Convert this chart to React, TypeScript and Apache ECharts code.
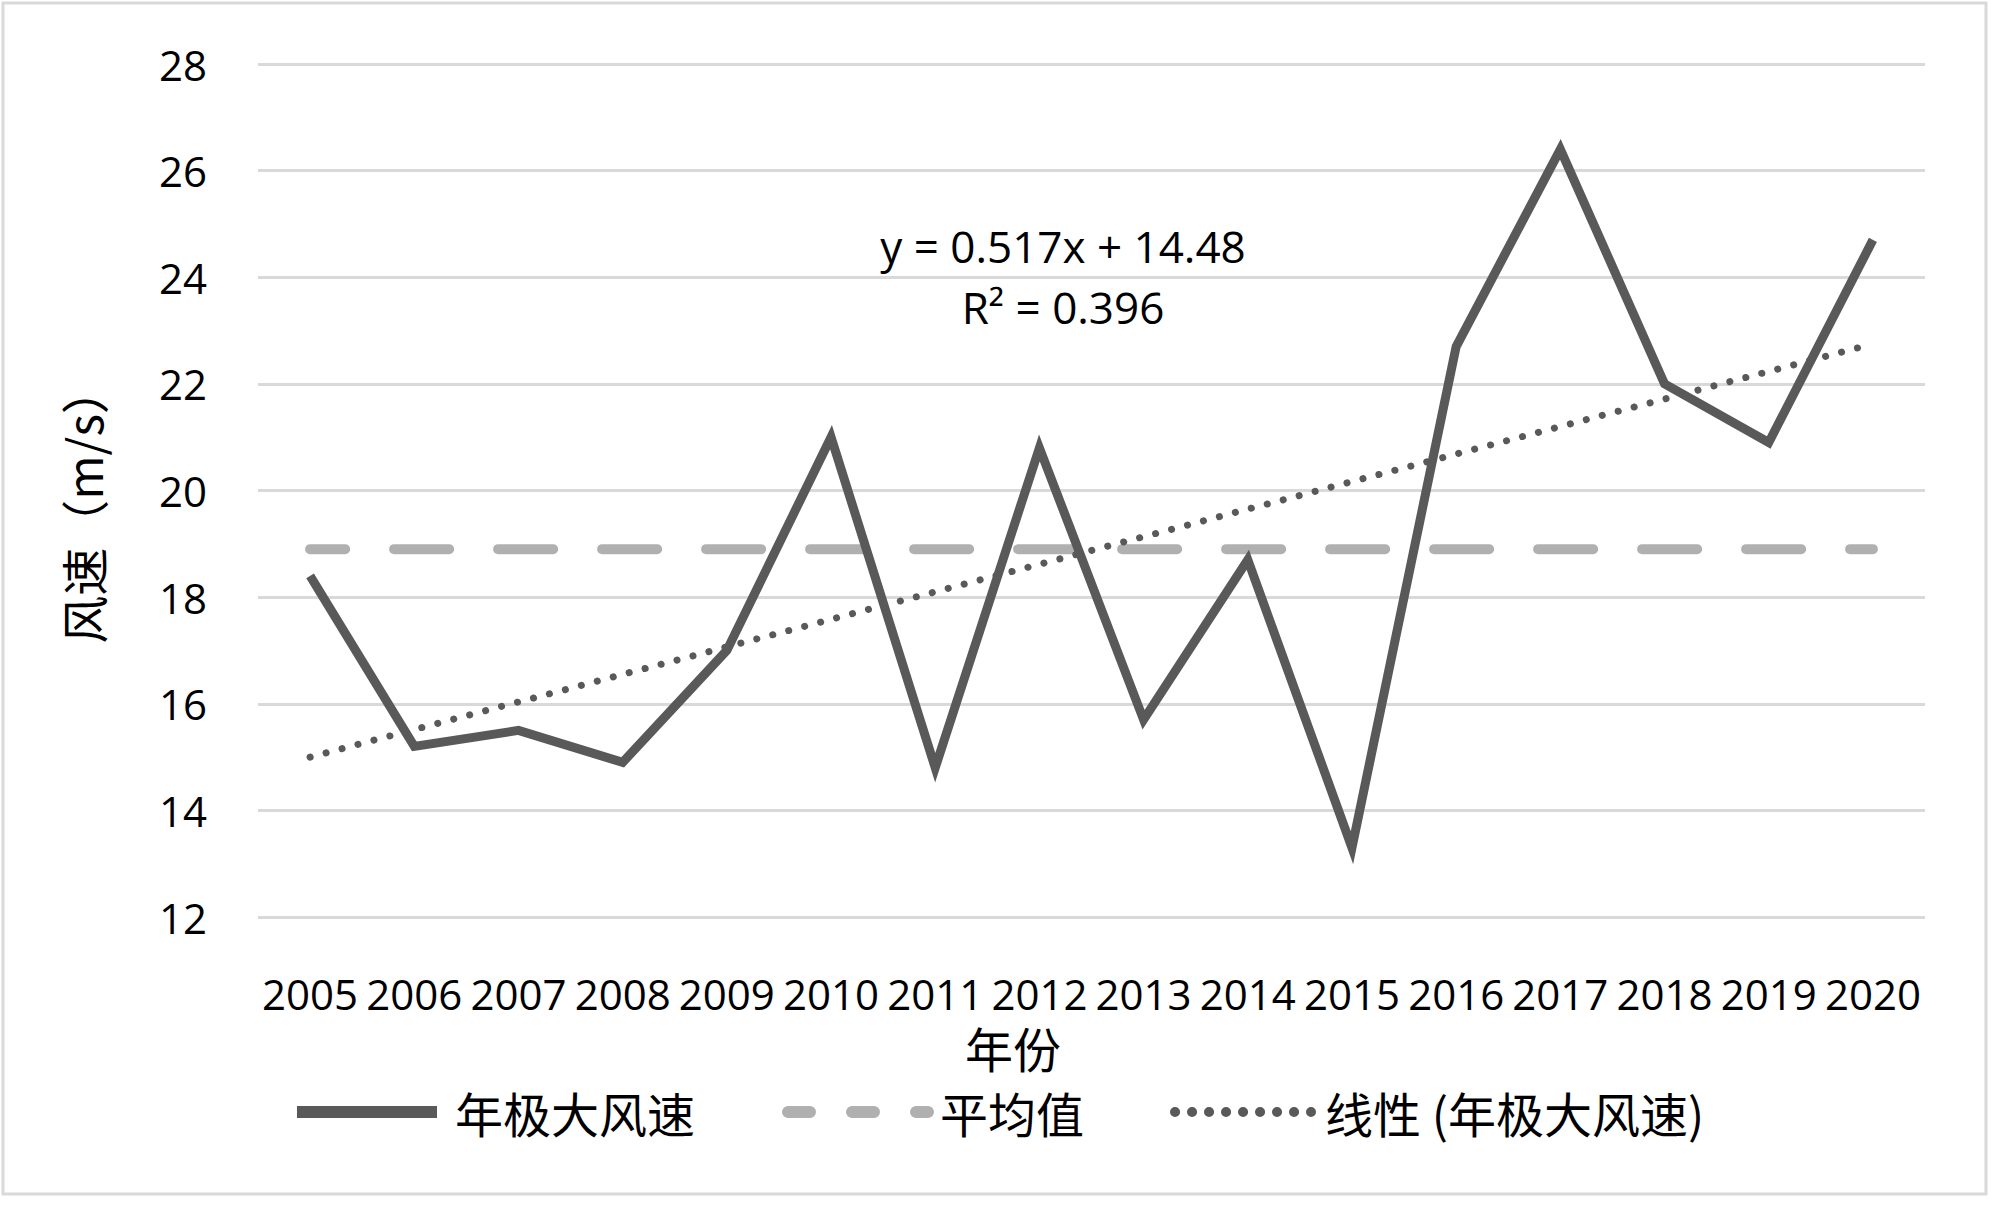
import React, { useEffect, useRef } from "react";
import * as echarts from "echarts";

const years = ["2005", "2006", "2007", "2008", "2009", "2010", "2011", "2012", "2013", "2014", "2015", "2016", "2017", "2018", "2019", "2020"];
const maxWind = [18.4, 15.2, 15.5, 14.9, 17.0, 21.0, 14.8, 20.8, 15.7, 18.7, 13.3, 22.7, 26.4, 22.0, 20.9, 24.7];
const meanWind = 18.9;
const trendStart = 15.0;
const trendEnd = 22.75;
const yTicks = { min: 12, max: 28, interval: 2 };
const equationLines = ["y = 0.517x + 14.48", "R² = 0.396"];
const seriesNames = ["年极大风速", "平均值", "线性 (年极大风速)"];
const xAxisTitle = "年份";
const yAxisTitle = "风速（m/s）";

const LATIN = "'Open Sans', 'Noto Sans CJK SC', sans-serif";
const CJK = "'Noto Sans CJK SC', 'Open Sans', sans-serif";

export default function App() {
  const ref = useRef<HTMLDivElement | null>(null);

  useEffect(() => {
    document.body.style.margin = "0";
    if (!ref.current) return;
    const chart = echarts.init(ref.current, undefined, { renderer: "svg" });

    const last = years.length - 1;
    const meanData = years.map(() => meanWind);
    const trendData = years.map((_, i) => (i === 0 ? trendStart : i === last ? trendEnd : null));

    const legendText = (padLeft: number) => ({ fontFamily: CJK, fontSize: 48, color: "#000", padding: [0, 0, 0, padLeft] });
    const hiddenSymbol = { color: "rgba(0,0,0,0)", borderColor: "rgba(0,0,0,0)", borderWidth: 0, opacity: 0 };

    chart.setOption({
      animation: false,
      backgroundColor: "#fff",
      grid: { left: 258, right: 75, top: 64, bottom: 290, containLabel: false },
      xAxis: {
        type: "category",
        data: years,
        boundaryGap: true,
        axisLine: { show: false },
        axisTick: { show: false },
        axisLabel: { fontFamily: LATIN, fontSize: 42, color: "#000", margin: 55, lineHeight: 42, interval: 0 },
        splitLine: { show: false },
      },
      yAxis: {
        type: "value",
        min: yTicks.min,
        max: yTicks.max,
        interval: yTicks.interval,
        axisLine: { show: false },
        axisTick: { show: false },
        axisLabel: { fontFamily: LATIN, fontSize: 42, color: "#000", margin: 51 },
        splitLine: { show: true, lineStyle: { color: "#d9d9d9", width: 3 } },
      },
      legend: [
        {
          left: 291, top: 1088, padding: 0, itemWidth: 140, itemHeight: 48, itemGap: 0,
          data: [{ name: seriesNames[0], lineStyle: { width: 12 }, itemStyle: hiddenSymbol }],
          textStyle: legendText(13),
        },
        {
          left: 782, top: 1088, padding: 0, itemWidth: 140, itemHeight: 48, itemGap: 0,
          data: [{ name: seriesNames[1], lineStyle: { width: 12, type: [22, 42], dashOffset: 0, cap: "round" }, itemStyle: hiddenSymbol }],
          textStyle: legendText(7),
        },
        {
          left: 1170, top: 1088, padding: 0, itemWidth: 136, itemHeight: 48, itemGap: 0,
          data: [{ name: seriesNames[2], lineStyle: { width: 10, type: [0.1, 16.9], dashOffset: 0, cap: "round" }, itemStyle: hiddenSymbol }],
          textStyle: legendText(9),
        },
      ],
      series: [
        {
          name: seriesNames[0],
          type: "line",
          data: maxWind,
          symbol: "none",
          showSymbol: false,
          z: 3,
          lineStyle: { color: "#595959", width: 9, join: "miter", miterLimit: 10 },
          itemStyle: { color: "#595959" },
        },
        {
          name: seriesNames[1],
          type: "line",
          data: meanData,
          symbol: "none",
          showSymbol: false,
          z: 1,
          lineStyle: { color: "#b0b0b0", width: 10, type: [55, 49], dashOffset: 20, cap: "round" },
          itemStyle: { color: "#b0b0b0" },
        },
        {
          name: seriesNames[2],
          type: "line",
          data: trendData,
          connectNulls: true,
          symbol: "none",
          showSymbol: false,
          z: 2,
          lineStyle: { color: "#595959", width: 7, type: [0.1, 16.4], cap: "round" },
          itemStyle: { color: "#595959" },
        },
      ],
      graphic: [
        {
          type: "rect",
          shape: { x: 3, y: 3, width: 1983, height: 1191 },
          style: { fill: "none", stroke: "#d9d9d9", lineWidth: 3 },
          silent: true,
        },
        {
          type: "text",
          x: 1063, y: 246,
          style: { text: equationLines[0], fontFamily: LATIN, fontSize: 44, fill: "#000", textAlign: "center", textVerticalAlign: "middle" },
        },
        {
          type: "text",
          x: 1063, y: 307,
          style: { text: equationLines[1], fontFamily: LATIN, fontSize: 44, fill: "#000", textAlign: "center", textVerticalAlign: "middle" },
        },
        {
          type: "text",
          x: 1013, y: 1047,
          style: { text: xAxisTitle, fontFamily: CJK, fontSize: 48, lineHeight: 48, fill: "#000", textAlign: "center", textVerticalAlign: "middle" },
        },
        {
          type: "text",
          x: 82, y: 505,
          rotation: Math.PI / 2,
          style: { text: yAxisTitle, fontFamily: CJK, fontSize: 48, fill: "#000", textAlign: "center", textVerticalAlign: "middle" },
        },
      ],
    });

    return () => chart.dispose();
  }, []);

  return <div ref={ref} style={{ width: 2000, height: 1207 }} />;
}
